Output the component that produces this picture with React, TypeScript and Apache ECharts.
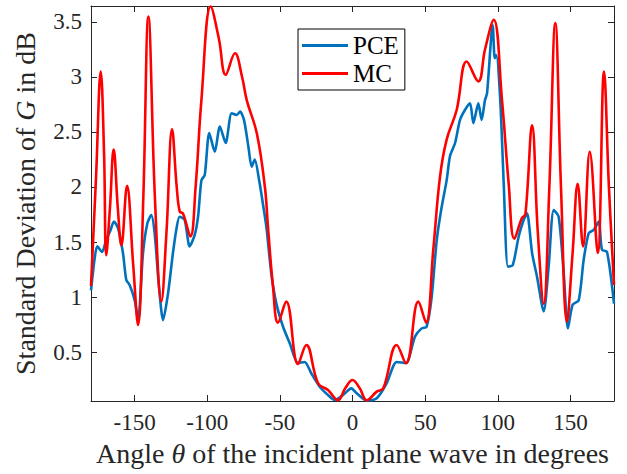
import React, { useEffect, useRef } from "react";
import * as echarts from "echarts";

const mcTheta = [
  -180, -176.5, -173.3, -171, -169.5, -167, -164.4, -161.5, -159.1, -155.2, -151, -147.6, -144, -140.5, -136,
  -131.6, -128, -124.2, -121, -118.9, -116.7, -111.6, -108, -104, -97.6, -92, -87.3, -80.9, -76, -72.8, -65.9,
  -60.3, -58.2, -54.7, -51.3, -45.6, -37.5, -31.8, -23.7, -16.9, -10, -5, 0, 5, 9.8, 16.7, 21.2, 30.4, 36.8,
  45.3, 50.6, 55.6, 60.2, 64.8, 71.7, 78.6, 86.6, 91.2, 97.2, 102.9, 107.5, 111.4, 116.7, 119, 123.6, 127.5,
  131.6, 135.5, 139.6, 143.5, 147.6, 151.5, 155, 158.7, 163.3, 168.8, 173.1, 176.5, 180,
];
const mcValue = [
  1.1, 2.1, 3.05, 2.3, 1.38, 1.8, 2.34, 1.8, 1.47, 2.01, 1.3, 0.745, 1.9, 3.55, 1.9,
  0.96, 1.6, 2.525, 2.0, 1.775, 1.76, 1.55, 2.0, 2.79, 3.64, 3.35, 3.02, 3.215, 3.0, 2.79, 2.49,
  2.0, 1.64, 1.09, 0.767, 0.958, 0.391, 0.564, 0.216, 0.155, 0.062, 0.17, 0.246, 0.17, 0.062, 0.14, 0.17, 0.564, 0.398,
  0.958, 0.767, 1.43, 2.09, 2.43, 2.7, 3.14, 2.96, 3.25, 3.52, 2.79, 2.03, 1.53, 1.72, 1.75, 2.56, 1.6,
  0.94, 2.0, 3.49, 2.0, 0.776, 1.4, 2.03, 1.46, 2.32, 1.4, 3.05, 2.0, 1.11,
];

const pceTheta = [
  -180, -177.5, -175.7, -172.4, -169.5, -166.5, -164.2, -161.4, -158, -155.7, -153.4, -149.9, -147.6, -144.2,
  -141.2, -138.5, -136.2, -133.4, -130.4, -127, -123.6, -121.3, -119, -115.5, -112.1, -108.6, -106.3, -104,
  -101.7, -98.6, -94.8, -91.3, -87.3, -83.2, -79.7, -77.4, -74.7, -71.7, -69.4, -67.3, -64, -61.7, -59.3,
  -55.9, -52.4, -47.8, -43.2, -37.5, -32.9, -28.4, -22.6, -16.9, -12.3, -6.5, -0.8, 2.9, 9.8, 16.7, 23.5,
  30.4, 36.8, 43, 47.6, 51, 54.5, 58, 61.4, 64.8, 67.1, 70.6, 74, 77.4, 80.9, 83.2, 86.6, 88.9, 91.2, 92.6,
  96.5, 97.9, 99, 101.7, 104.1, 107, 110.3, 114.4, 117.8, 120.1, 123.6, 127, 131.6, 135, 138.5, 141.9, 145.4,
  148.3, 151.5, 155.7, 159.1, 162.6, 166, 169.5, 171.7, 175.2, 180,
];
const pceValue = [
  1.06, 1.35, 1.46, 1.41, 1.52, 1.61, 1.685, 1.625, 1.4, 1.155, 1.11, 0.97, 0.79, 1.4,
  1.67, 1.745, 1.58, 1.125, 0.79, 1.03, 1.4, 1.61, 1.73, 1.7, 1.46, 1.565, 1.73, 2.06,
  2.11, 2.49, 2.32, 2.55, 2.4, 2.67, 2.655, 2.685, 2.61, 2.37, 2.185, 2.25, 2.04, 1.85, 1.64,
  1.215, 0.94, 0.73, 0.58, 0.4, 0.41, 0.307, 0.185, 0.11, 0.064, 0.11, 0.17, 0.125, 0.06, 0.08, 0.215,
  0.41, 0.4, 0.64, 0.715, 0.73, 1.0, 1.52, 1.82, 2.06, 2.28, 2.4, 2.61, 2.7, 2.76, 2.58, 2.76, 2.61, 2.79, 2.85,
  3.47, 3.17, 3.2, 2.79, 2.03, 1.275, 1.29, 1.55, 1.7, 1.76, 1.4, 1.185, 0.87, 1.275, 1.79, 1.73, 1.215,
  0.715, 0.93, 0.97, 1.335, 1.58, 1.61, 1.685, 1.43, 1.41, 0.94,
];

const seriesNames = ["PCE", "MC"];
const xTitle = "Angle {i|θ} of the incident plane wave in degrees";
const yTitle = "Standard Deviation of {i|G} in dB";

const FONT = "'Liberation Serif', 'Times New Roman', serif";
const AX = "#262626";

export default function App() {
  const ref = useRef<HTMLDivElement>(null);
  useEffect(() => {
    const chart = echarts.init(ref.current!, null, { renderer: "svg" });
    const pce = pceTheta.map((t, i) => [t, pceValue[i]]);
    const mc = mcTheta.map((t, i) => [t, mcValue[i]]);
    const axisCommon = {
      type: "value" as const,
      axisLine: { show: true, onZero: false, lineStyle: { color: AX, width: 1 } },
      axisTick: { show: true, inside: true, length: 6, lineStyle: { color: AX } },
      splitLine: { show: false },
    };
    const labelStyle = { color: AX, fontFamily: FONT, fontSize: 23 };
    const nameStyle = {
      color: AX,
      fontFamily: FONT,
      fontSize: 28,
      rich: { i: { fontStyle: "italic", fontFamily: FONT, fontSize: 28, color: AX } },
    };
    chart.setOption({
      animation: false,
      backgroundColor: "#fff",
      grid: { left: 91, right: 13, top: 6, bottom: 73, containLabel: false },
      legend: {
        data: [
          { name: "PCE", icon: "rect" },
          { name: "MC", icon: "rect" },
        ],
        orient: "vertical",
        left: 298,
        top: 29,
        itemWidth: 46,
        itemHeight: 3,
        itemGap: 3,
        padding: [4, 6, 4, 4],
        borderColor: "#000",
        borderWidth: 1,
        backgroundColor: "#fff",
        textStyle: { fontFamily: FONT, fontSize: 25, color: "#000" },
      },
      xAxis: [
        {
          ...axisCommon,
          min: -180,
          max: 180,
          splitNumber: 7,
          position: "bottom",
          axisLabel: { ...labelStyle, margin: 10, showMinLabel: false, showMaxLabel: false },
          name: xTitle,
          nameLocation: "middle",
          nameGap: 38,
          nameTextStyle: nameStyle,
        },
        {
          ...axisCommon,
          min: -180,
          max: 180,
          splitNumber: 7,
          position: "top",
          axisLabel: { show: false },
        },
      ],
      yAxis: [
        {
          ...axisCommon,
          min: 0.055,
          max: 3.645,
          splitNumber: 7,
          position: "left",
          axisLabel: { ...labelStyle, margin: 9, showMinLabel: false, showMaxLabel: false },
          name: yTitle,
          nameLocation: "middle",
          nameGap: 52,
          nameTextStyle: nameStyle,
        },
        {
          ...axisCommon,
          min: 0.055,
          max: 3.645,
          splitNumber: 7,
          position: "right",
          axisLabel: { show: false },
        },
      ],
      series: [
        {
          name: seriesNames[0],
          type: "line",
          data: pce,
          showSymbol: false,
          symbol: "none",
          smooth: 0.25,
          lineStyle: { color: "#0072BD", width: 2.6 },
          itemStyle: { color: "#0072BD" },
          z: 2,
        },
        {
          name: seriesNames[1],
          type: "line",
          data: mc,
          showSymbol: false,
          symbol: "none",
          smooth: 0.4,
          lineStyle: { color: "#FF0000", width: 2.6 },
          itemStyle: { color: "#FF0000" },
          z: 3,
        },
      ],
    });
    return () => chart.dispose();
  }, []);
  return (
    <div
      ref={ref}
      style={{ position: "absolute", left: 0, top: 0, width: 627, height: 474, background: "#fff" }}
    />
  );
}
